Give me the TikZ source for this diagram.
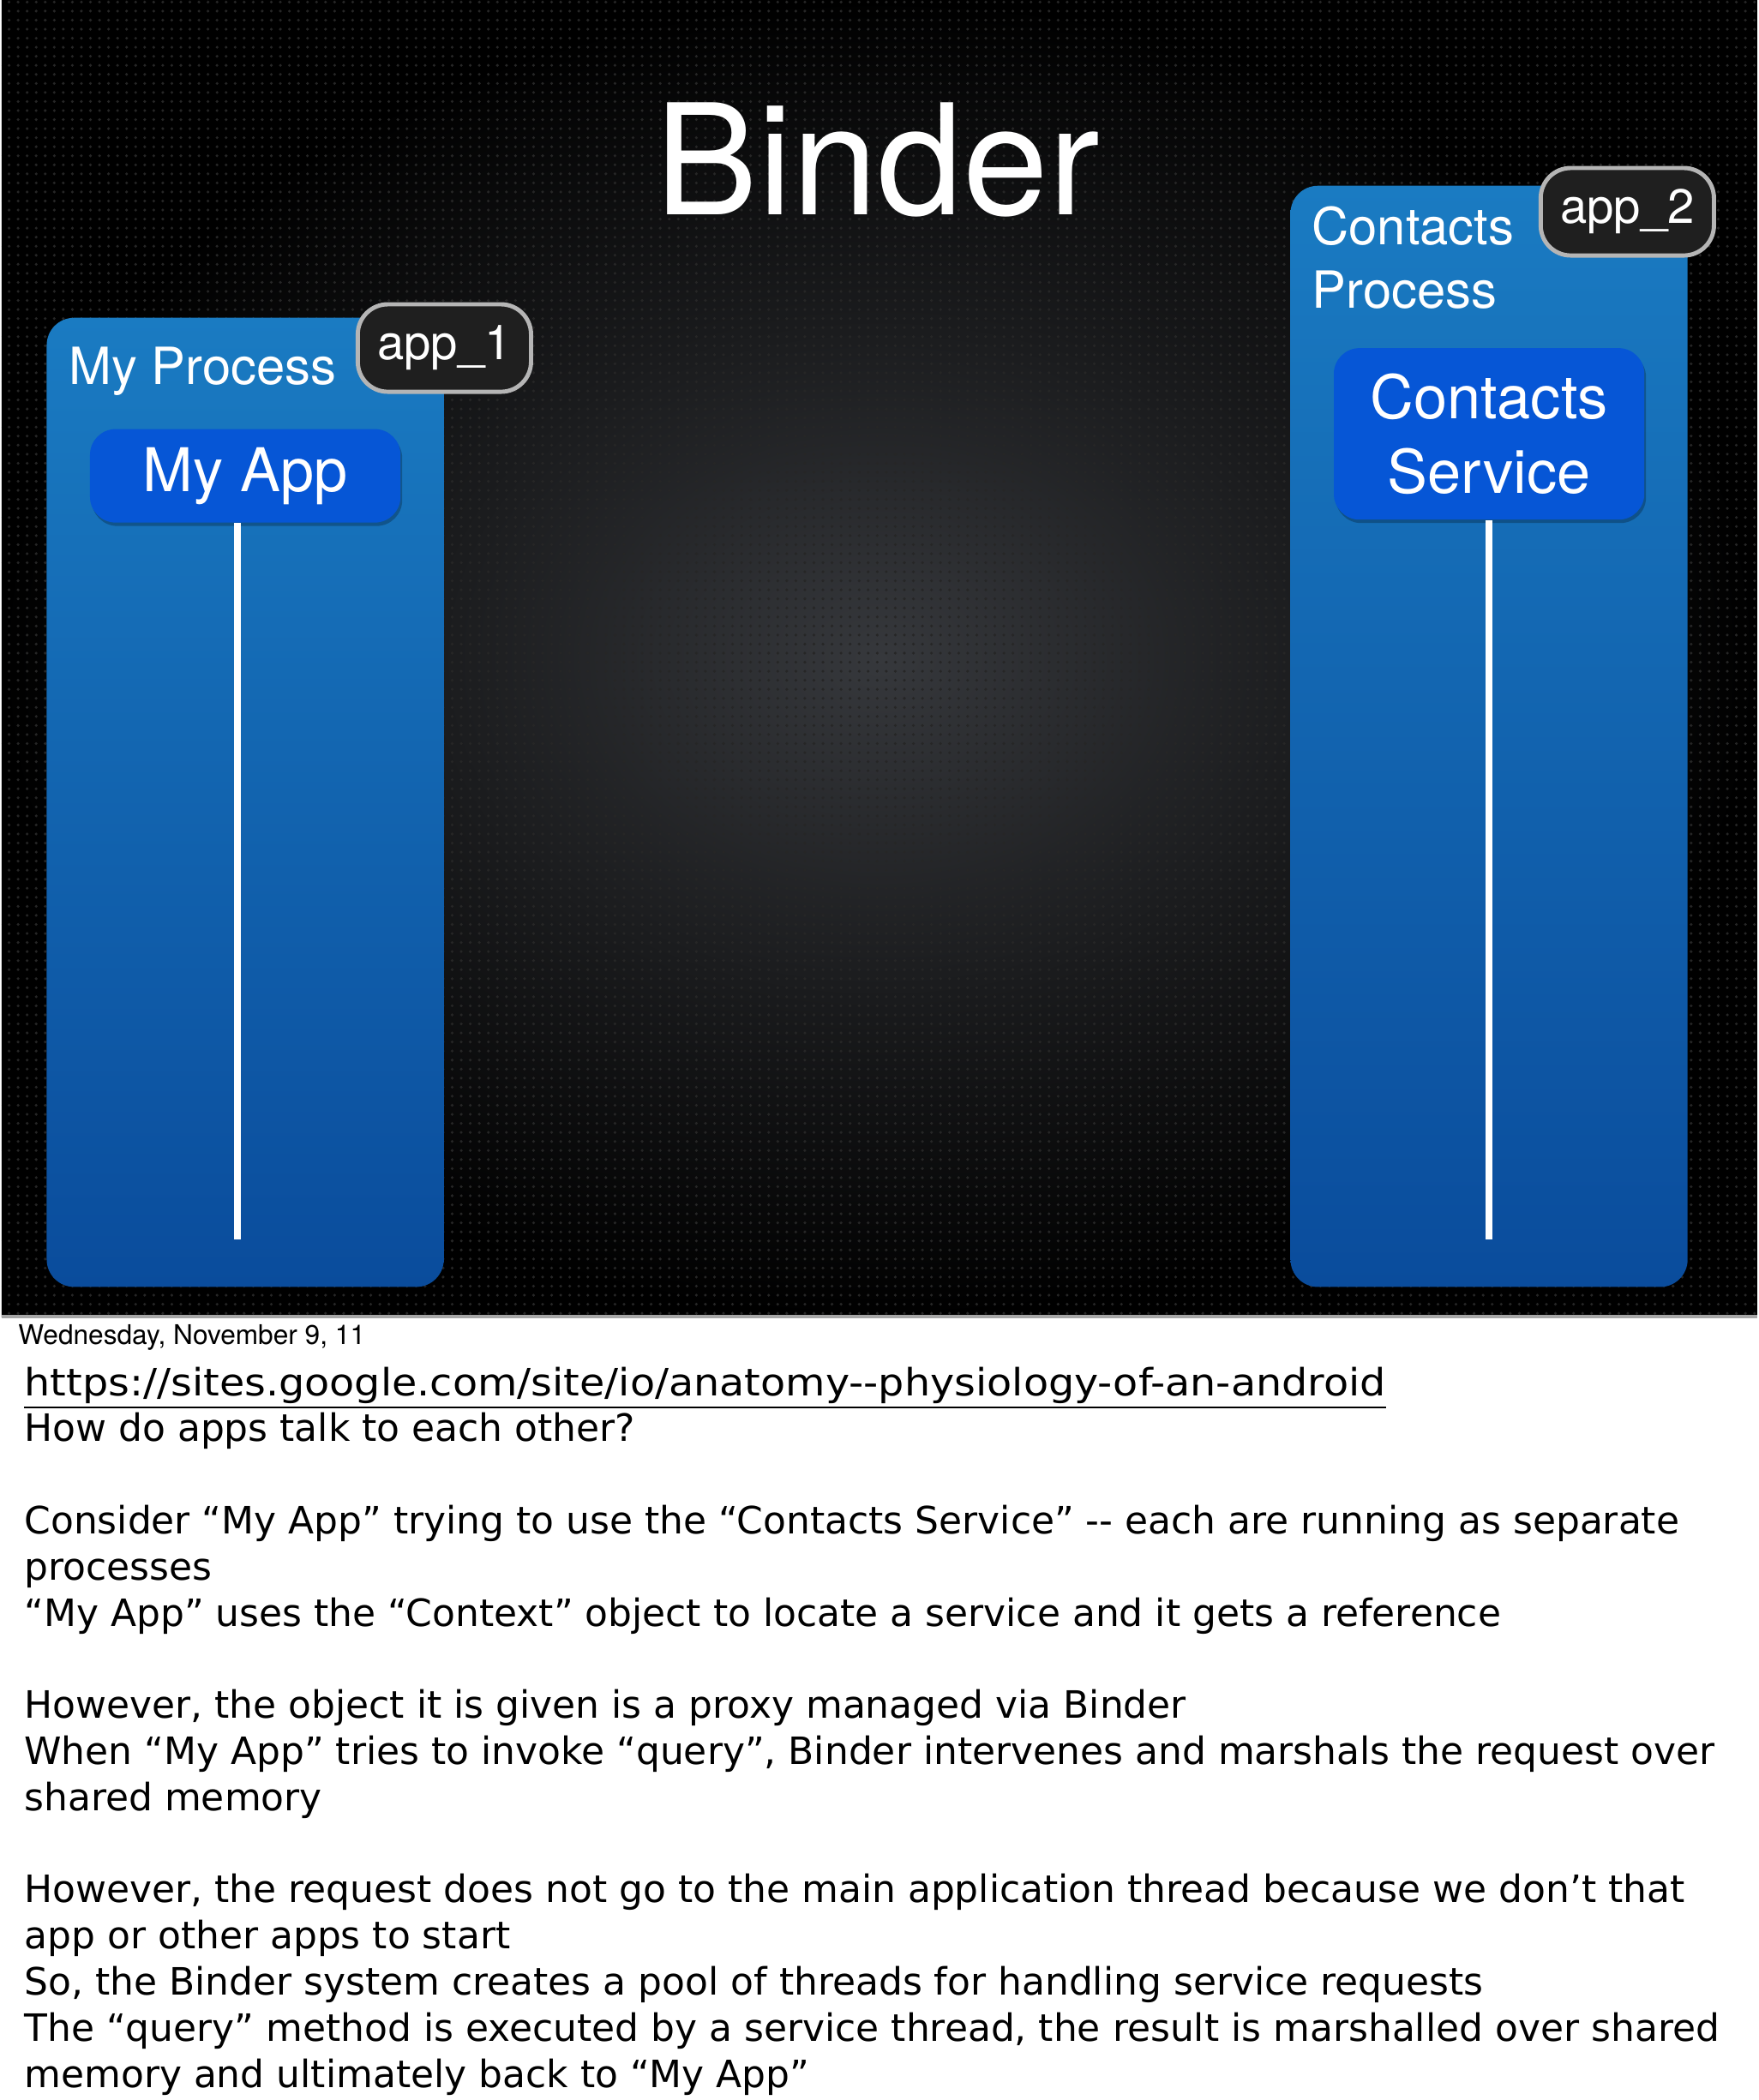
\documentclass[tikz,border=0pt]{standalone}
\usepackage{fontspec}
\setmainfont{TeX Gyre Heros}
\newfontfamily\notesfont{DejaVu Sans}
\usetikzlibrary{positioning,shadows,patterns}

\definecolor{slideMid}{HTML}{36383C}
\definecolor{procTop}{HTML}{1A7BC2}
\definecolor{procBottom}{HTML}{0A4C9C}
\definecolor{appBlue}{HTML}{0656D6}
\definecolor{tagFill}{HTML}{1F1F1F}
\definecolor{tagBorder}{HTML}{B5B5B5}

\begin{document}
\begin{tikzpicture}[x=0.01cm,y=-0.01cm,
  process/.style={anchor=north west, rounded corners=0.32cm, top color=procTop, bottom color=procBottom, minimum width=4.63cm, inner sep=0pt},
  procLabel/.style={anchor=base west, text=white, align=left, inner sep=0pt, font=\fontsize{17}{20.8}\selectfont},
  appBox/.style={rounded corners=0.3cm, fill=appBlue, text=white, minimum width=3.62cm, align=center, font=\fontsize{20}{24.8}\selectfont,
    drop shadow={shadow xshift=0.02cm, shadow yshift=-0.04cm, opacity=0.25, fill=black}},
  tag/.style={rounded corners=0.35cm, fill=tagFill, draw=tagBorder, line width=1.4pt, text=white, minimum width=2.02cm, minimum height=1.02cm, font=\fontsize{16}{19}\selectfont},
  lifeline/.style={draw=white, line width=2.3pt}]

% slide background and the white notes page
\fill[white] (0,0) rectangle (2048,2450);
\shade[inner color=slideMid, outer color=black] (0,0) rectangle (2048,1536);
\fill[pattern=dots, pattern color=black!85] (0,0) rectangle (2048,1536);
\draw[gray!70, line width=1pt] (0,1536) -- (2048,1536);

\node[text=white, anchor=base, font=\fontsize{51}{60}\selectfont] (title) at (1022,250) {Binder};

% the two processes
\node[process, minimum height=11.3cm] (myProcess) at (52,370) {};
\node[process, minimum height=12.84cm] (contactsProcess) at (1503,216) {};

\node[procLabel] (myProcessLabel) at ([xshift=0.26cm, yshift=-0.78cm]myProcess.north west) {My Process};
\node[procLabel] (contactsLabel) at ([xshift=0.25cm, yshift=-1.43cm]contactsProcess.north west) {Contacts\\Process};

\node[tag] (app1) at ([yshift=-0.36cm]myProcess.north east) {app\_1};
\node[tag] (app2) at ([xshift=-0.71cm, yshift=-0.31cm]contactsProcess.north east) {app\_2};

\node[appBox, minimum height=1.09cm] (myApp) at ([yshift=-1.85cm]myProcess.north) {My App};
\node[appBox, minimum height=2.0cm] (contactsService) at ([yshift=-2.9cm]contactsProcess.north) {Contacts\\Service};

% threads
\coordinate[below=8.35cm of myApp.south, xshift=-0.09cm] (myAppEnd);
\coordinate[below=8.39cm of contactsService.south] (serviceEnd);
\draw[lifeline] ([xshift=-0.09cm]myApp.south) -- (myAppEnd);
\draw[lifeline] (contactsService.south) -- (serviceEnd);

% notes page
\node[anchor=base west, inner sep=0pt, font=\fontsize{9}{11}\selectfont] (date) at (19,1568) {Wednesday, November 9, 11};
\node[anchor=north west, inner sep=0pt, align=left, font=\notesfont\fontsize{12.5}{15.3}\selectfont] (notes) at (26,1594) {%
\scalebox{1.084}[1]{\underline{https://sites.google.com/site/io/anatomy-{}-physiology-of-an-android}}\\
How do apps talk to each other?\\[15.3pt]
Consider “My App” trying to use the “Contacts Service” -{}- each are running as separate\\
processes\\
“My App” uses the “Context” object to locate a service and it gets a reference\\[15.3pt]
However, the object it is given is a proxy managed via Binder\\
When “My App” tries to invoke “query”, Binder intervenes and marshals the request over\\
shared memory\\[15.3pt]
However, the request does not go to the main application thread because we don’t that\\
app or other apps to start\\
So, the Binder system creates a pool of threads for handling service requests\\
The “query” method is executed by a service thread, the result is marshalled over shared\\
memory and ultimately back to “My App”};

\useasboundingbox (0,0) rectangle (2048,2450);
\end{tikzpicture}
\end{document}
